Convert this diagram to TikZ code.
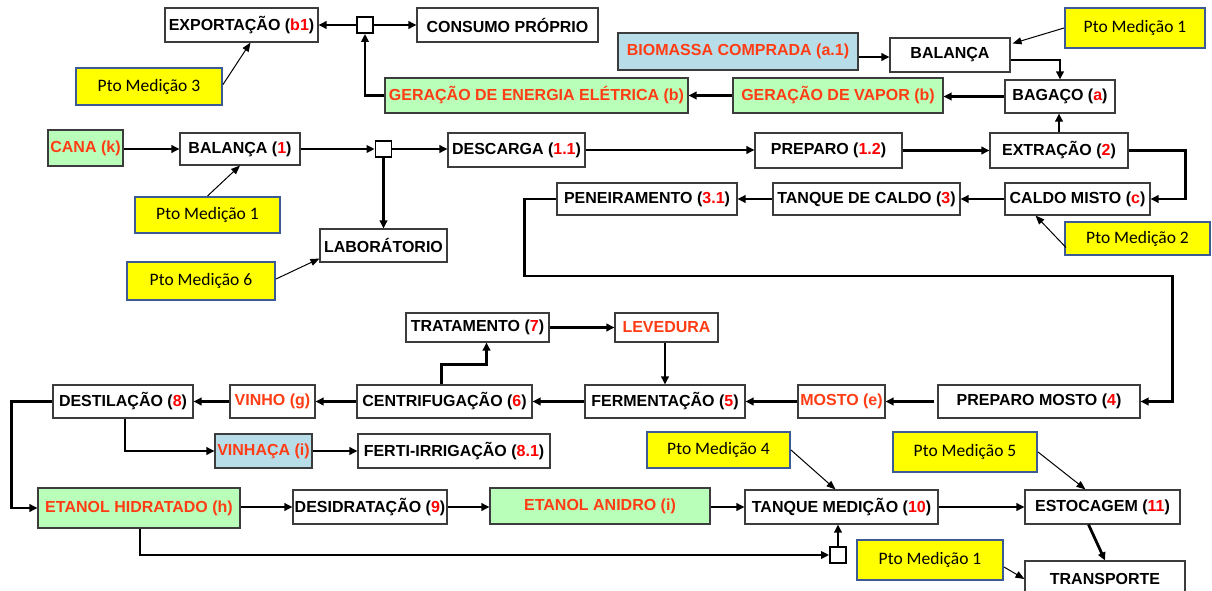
\documentclass[tikz,border=0pt]{standalone}
\usepackage{fontspec}
\setmainfont{Liberation Sans}
\newfontfamily\calib{Carlito}
\usetikzlibrary{arrows.meta}
\definecolor{numred}{RGB}{255,0,0}
\definecolor{ored}{RGB}{255,60,20}
\definecolor{gfill}{RGB}{185,255,185}
\definecolor{bfill}{RGB}{183,222,232}
\definecolor{yfill}{RGB}{255,255,0}
\definecolor{yborder}{RGB}{60,90,150}
\definecolor{bord}{RGB}{60,60,60}
\newcommand\rn[1]{\textcolor{numred}{#1}}
\begin{document}
\begin{tikzpicture}[x=1pt,y=-1pt,
 box/.style={draw=bord,line width=1.1pt,fill=white,inner sep=0pt,font=\fontsize{16}{19}\selectfont\bfseries,text=black},
 gbox/.style={box,fill=gfill,text=ored},
 bbox/.style={box,fill=bfill,text=ored},
 obox/.style={box,text=ored},
 ybox/.style={draw=yborder,line width=2pt,fill=yfill,inner sep=0pt,font=\calib\fontsize{17.5}{20}\selectfont},
 jn/.style={draw=black,line width=1.8pt,fill=white,minimum size=16pt,inner sep=0pt},
 conn/.style={line width=2.8pt,-{Triangle[length=8pt,width=7.5pt]}},
 thin/.style={line width=1pt,-{Triangle[length=9pt,width=7pt]}},
 sz/.style 2 args={minimum width=#1pt,minimum height=#2pt},
]
\useasboundingbox (0,0) rectangle (1212,591);
\node[box,sz={153}{34}] (exp) at (241.5,25) {EXPORTAÇÃO (\rn{b1})};
\node[jn] (j1) at (365,25) {};
\node[box,sz={181}{34}] (cons) at (507.5,25) {CONSUMO PRÓPRIO};
\node[ybox,sz={146}{37}] (pm3) at (149,86.5) {Pto Medição 3};
\node[gbox,sz={303}{35}] (gee) at (536.5,95.5) {GERAÇÃO DE ENERGIA ELÉTRICA (b)};
\node[gbox,sz={210}{35}] (gv) at (838,95.5) {GERAÇÃO DE VAPOR (b)};
\node[box,sz={110}{33}] (bag) at (1060,96.5) {BAGAÇO (\rn{a})};
\node[bbox,sz={240}{37}] (bio) at (738,51.5) {BIOMASSA COMPRADA (a.1)};
\node[box,sz={120}{34}] (bal) at (950,55) {\raisebox{-3pt}{BALANÇA}};
\node[ybox,sz={140}{40}] (pm1a) at (1135,28) {Pto Medição 1};
\node[gbox,sz={75}{36}] (cana) at (85.5,148) {CANA (k)};
\node[box,sz={120}{32}] (bal1) at (240,149) {BALANÇA (\rn{1})};
\node[jn] (j2) at (383.5,149) {};
\node[box,sz={137}{34}] (desc) at (516.5,150) {DESCARGA (\rn{1.1})};
\node[box,sz={147}{35}] (prep) at (828.5,150.5) {PREPARO (\rn{1.2})};
\node[box,sz={138}{35}] (extr) at (1059,150.5) {EXTRAÇÃO (\rn{2})};
\node[ybox,sz={145}{36}] (pm1b) at (207.5,215) {Pto Medição 1};
\node[box,sz={180}{32}] (pen) at (647,199) {PENEIRAMENTO (\rn{3.1})};
\node[box,sz={187}{32}] (tanq) at (866.5,199) {TANQUE DE CALDO (\rn{3})};
\node[box,sz={145}{32}] (caldo) at (1077.5,199) {CALDO MISTO (\rn{c})};
\node[ybox,sz={145}{33}] (pm2) at (1137.5,238.5) {Pto Medição 2};
\node[box,sz={127}{33}] (lab) at (383.5,245.5) {LABORÁTORIO};
\node[ybox,sz={148}{38}] (pm6) at (201,281) {Pto Medição 6};
\node[box,sz={143}{29}] (trat) at (477.5,327.5) {TRATAMENTO (\rn{7})};
\node[obox,sz={103}{29}] (lev) at (666.5,327.5) {LEVEDURA};
\node[box,sz={140}{33}] (dest) at (123,401.5) {DESTILAÇÃO (\rn{8})};
\node[obox,sz={85}{33}] (vinho) at (272.5,401.5) {VINHO (g)};
\node[box,sz={175}{33}] (cent) at (444.5,401.5) {CENTRIFUGAÇÃO (\rn{6})};
\node[box,sz={160}{33}] (ferm) at (665,401.5) {FERMENTAÇÃO (\rn{5})};
\node[obox,sz={87}{33}] (mosto) at (841.5,401.5) {MOSTO (e)};
\node[box,sz={202}{33}] (pmosto) at (1039,401.5) {PREPARO MOSTO (\rn{4})};
\node[bbox,sz={97}{34}] (vinhaca) at (263.5,451) {VINHAÇA (i)};
\node[box,sz={192}{34}] (ferti) at (454,451) {FERTI-IRRIGAÇÃO (\rn{8.1})};
\node[ybox,sz={143}{36}] (pm4) at (718.5,450) {Pto Medição 4};
\node[ybox,sz={144}{40}] (pm5) at (965,452) {Pto Medição 5};
\node[gbox,sz={202}{40}] (eh) at (139,508) {ETANOL HIDRATADO (h)};
\node[box,sz={154}{34}] (des) at (370,507) {DESIDRATAÇÃO (\rn{9})};
\node[gbox,sz={220}{36}] (ea) at (600,506) {ETANOL ANIDRO (i)};
\node[box,sz={193}{34}] (tm) at (841.5,507) {TANQUE MEDIÇÃO (\rn{10})};
\node[box,sz={155}{34}] (est) at (1102.5,507) {ESTOCAGEM (\rn{11})};
\node[jn] (j3) at (838,555) {};
\node[ybox,sz={146}{40}] (pm1c) at (930,560) {Pto Medição 1};
\node[box,sz={160}{36}] (trans) at (1105,579) {TRANSPORTE};
% connectors
\draw[conn] (j1.west) -- (j1.west -| exp.east);
\draw[conn] (j1.east) -- (j1.east -| cons.west);
\draw[conn] (gee.west) -| (j1.south);
\draw[thin] ([yshift=2pt]pm3.east) -- ([xshift=9pt]exp.south);
\draw[conn] ([yshift=-2pt]bal.west -| bio.east) -- ([yshift=-2pt]bal.west);
\draw[conn] ([yshift=-5pt]bal.east) -| (bag.north);
\draw[thin] (pm1a.west) -- ([xshift=2pt,yshift=-6pt]bal.north east);
\draw[conn] (bag.west) -- (bag.west -| gv.east);
\draw[conn] (gv.west) -- (gv.west -| gee.east);
\draw[conn] (extr.north) -- (extr.north |- bag.south);
\draw[conn] (cana.east |- bal1.west) -- (bal1.west);
\draw[conn] (bal1.east) -- (bal1.east -| j2.west);
\draw[conn] (j2.east) -- (j2.east -| desc.west);
\draw[conn] (j2.south) -- (j2.south |- lab.north);
\draw[thin] (pm1b.north) -- (bal1.south);
\draw[thin] ([yshift=2pt]pm6.east) -- ([yshift=4pt]lab.south west);
\draw[conn] (desc.east) -- (desc.east -| prep.west);
\draw[conn] (prep.east) -- (prep.east -| extr.west);
\draw[conn] (extr.east) -- ++(57,0) |- (caldo.east);
\draw[conn] (caldo.west) -- (caldo.west -| tanq.east);
\draw[conn] (tanq.west) -- (tanq.west -| pen.east);
\draw[thin] ([xshift=2pt,yshift=-9pt]pm2.west) -- ([xshift=-42pt]caldo.south);
\draw[conn] (pen.west) -- ++(-32,0) -- ++(0,77) -- ++(648,0) |- (pmosto.east);
\draw[conn] ([xshift=-3pt]pmosto.west) -- (mosto.east);
\draw[conn] (mosto.west) -- (mosto.west -| ferm.east);
\draw[conn] (ferm.west) -- (ferm.west -| cent.east);
\draw[conn] ([xshift=-3pt]cent.north) -- ++(0,-20) -| ([xshift=9pt]trat.south);
\draw[conn] (trat.east) -- (trat.east -| lev.west);
\draw[conn] ([xshift=-1.5pt]lev.south) -- ([xshift=-1.5pt]lev.south |- ferm.north);
\draw[conn] (cent.west) -- (cent.west -| vinho.east);
\draw[conn] (vinho.west) -- (vinho.west -| dest.east);
\draw[conn] (dest.west) -- ++(-41,0) |- (eh.west);
\draw[conn] ([xshift=2pt]dest.south) |- (vinhaca.west);
\draw[conn] (vinhaca.east) -- (vinhaca.east -| ferti.west);
\draw[conn] (eh.east |- des.west) -- (des.west);
\draw[conn] (des.east) -- (des.east -| ea.west);
\draw[conn] (ea.east |- tm.west) -- (tm.west);
\draw[conn] ([xshift=1pt]eh.south) |- (j3.west);
\draw[conn] (j3.north) -- (j3.north |- tm.south);
\draw[conn] (tm.east) -- (tm.east -| est.west);
\draw[conn] ([xshift=-14pt]est.south) -- (trans.north);
\draw[thin] (pm4.east) -- ([xshift=-6pt]tm.north);
\draw[thin] (pm5.east) -- ([xshift=-17pt]est.north);
\draw[thin] ([yshift=-7pt]pm1c.east) -- (trans.west);
\end{tikzpicture}
\end{document}
